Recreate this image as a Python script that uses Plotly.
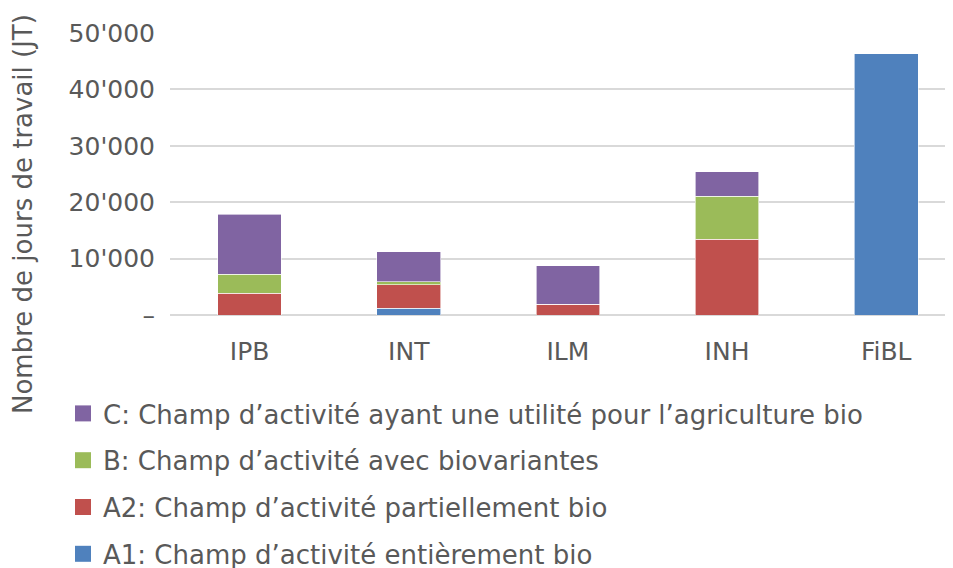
import plotly.graph_objects as go

categories = ["IPB", "INT", "ILM", "INH", "FiBL"]
a1 = [0, 1200, 0, 0, 46300]
a2 = [3900, 4200, 1900, 13400, 0]
b = [3350, 500, 0, 7700, 0]
c = [10600, 5300, 6800, 4300, 0]

series_names = [
    "A1: Champ d’activité entièrement bio",
    "A2: Champ d’activité partiellement bio",
    "B: Champ d’activité avec biovariantes",
    "C: Champ d’activité ayant une utilité pour l’agriculture bio",
]
series_values = [a1, a2, b, c]
colors = ["#4F81BD", "#C0504D", "#9BBB59", "#8064A2"]

tick_vals = [0, 10000, 20000, 30000, 40000, 50000]
tick_text = ["–", "10'000", "20'000", "30'000", "40'000", "50'000"]

FONT = "DejaVu Sans"
GRAY = "#595959"

# plot area in div pixels (page has an 8px body margin)
L, T, PH = 162, 25, 282
PW = 953 - L

fig = go.Figure()
for i, (name, vals, col) in enumerate(zip(series_names, series_values, colors)):
    fig.add_trace(go.Bar(
        x=categories, y=vals, name=name,
        marker=dict(color=col, line=dict(color="rgba(255,255,255,0.6)", width=1)),
        width=0.4, showlegend=False,
    ))
    # legend proxy with a larger square swatch
    fig.add_trace(go.Scatter(
        x=[None], y=[None], mode="markers", name=name,
        marker=dict(symbol="square", size=20, color=col),
        legendgroup=str(i), legendrank=10 - i, showlegend=True,
    ))

fig.update_layout(
    width=953, height=568,
    barmode="stack",
    plot_bgcolor="white", paper_bgcolor="white",
    margin=dict(l=L, r=0, t=T, b=568 - T - PH, autoexpand=False),
    font=dict(family=FONT, color=GRAY, size=25),
    showlegend=True,
    legend=dict(
        traceorder="grouped", tracegroupgap=10, itemsizing="trace",
        x=(55 - L) / PW, y=(T + PH - 382) / PH, xanchor="left", yanchor="top",
        font=dict(size=26, color=GRAY, family=FONT),
        bgcolor="rgba(0,0,0,0)",
    ),
    xaxis=dict(
        range=[-0.5, 4.47], showgrid=False, ticks="", showline=False,
        tickfont=dict(size=25, color=GRAY), ticklabelstandoff=19, tickangle=0,
    ),
    yaxis=dict(
        range=[0, 50000], tickvals=tick_vals, ticktext=tick_text,
        showgrid=True, gridcolor="#D9D9D9", gridwidth=1.5,
        zeroline=True, zerolinecolor="#D9D9D9", zerolinewidth=2,
        ticks="", tickfont=dict(size=25, color=GRAY), ticklabelstandoff=14,
    ),
    annotations=[dict(
        text="Nombre de jours de travail (JT)", textangle=-90,
        xref="paper", yref="paper", x=(15 - L) / PW, y=(T + PH - 206) / PH,
        xanchor="center", yanchor="middle", showarrow=False,
        font=dict(size=26, color=GRAY, family=FONT),
    )],
)

fig.write_html("out.html")
